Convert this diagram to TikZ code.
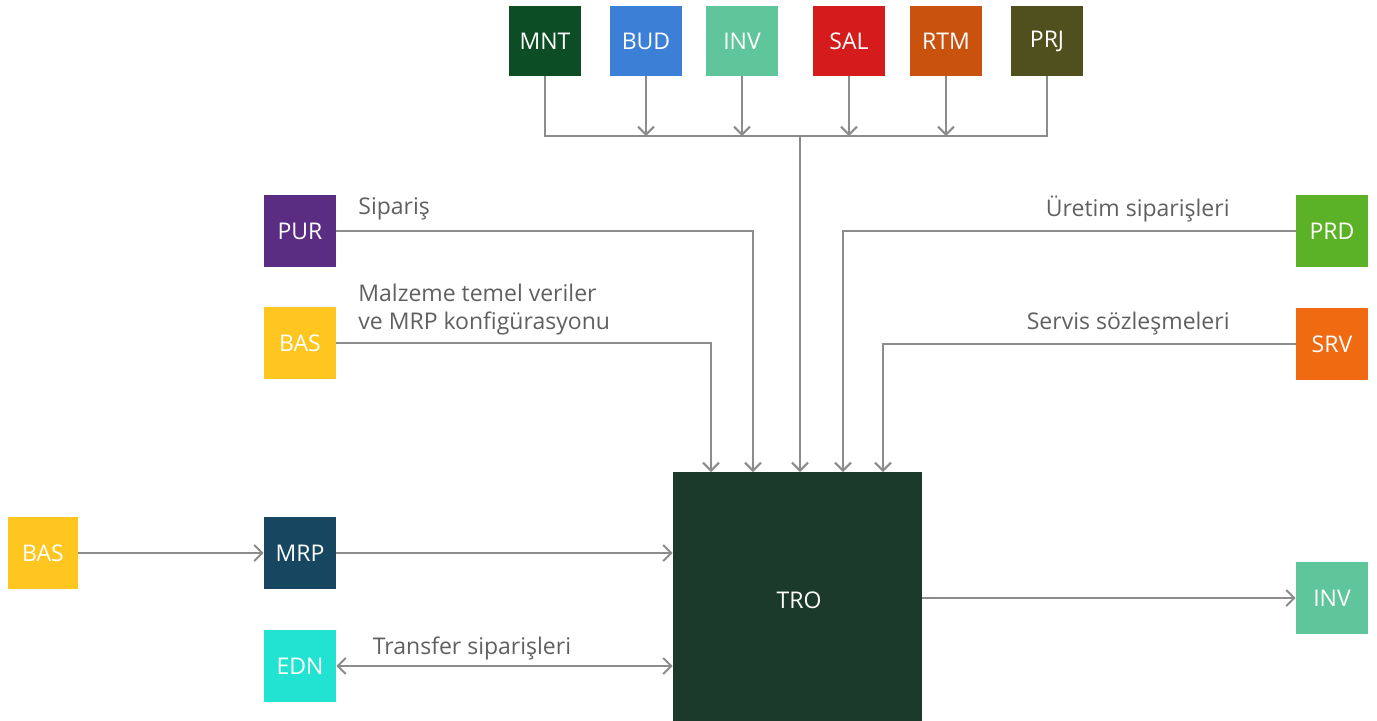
\documentclass[tikz,border=0pt]{standalone}
\usepackage{fontspec}
\setmainfont{Open Sans}
\usetikzlibrary{arrows.meta}
\definecolor{cMNT}{HTML}{0D4D25}
\definecolor{cBUD}{HTML}{3B80D6}
\definecolor{cINV}{HTML}{5FC69C}
\definecolor{cSAL}{HTML}{D51B1B}
\definecolor{cRTM}{HTML}{C8520E}
\definecolor{cPRJ}{HTML}{50501E}
\definecolor{cPUR}{HTML}{5A2D82}
\definecolor{cBAS}{HTML}{FFC620}
\definecolor{cPRD}{HTML}{5CB226}
\definecolor{cSRV}{HTML}{F06A12}
\definecolor{cMRP}{HTML}{174660}
\definecolor{cEDN}{HTML}{22E3D2}
\definecolor{cTRO}{HTML}{1B3A2B}
\definecolor{cLine}{HTML}{8C8C8C}
\definecolor{cText}{HTML}{606060}
\begin{document}
\begin{tikzpicture}[x=0.5pt,y=-0.5pt,
  box/.style={rectangle,inner sep=0pt,minimum width=36pt,minimum height=36pt,text=white,font=\fontsize{11.5}{13}\selectfont},
  ln/.style={draw=cLine,line width=1pt},
  arr/.style={ln,-{Straight Barb[length=4pt,width=8pt,line width=1pt]}},
  darr/.style={ln,{Straight Barb[length=4pt,width=8pt,line width=1pt]}-{Straight Barb[length=4pt,width=8pt,line width=1pt]}},
  lbl/.style={text=cText,font=\fontsize{11.5}{14}\selectfont,inner sep=0pt}]
\useasboundingbox[fill=white] (0,0) rectangle (1377,720);
% top boxes
\node[box,fill=cMNT,minimum height=35pt] (mnt) at (545,41) {MNT};
\node[box,fill=cBUD,minimum height=35pt] (bud) at (646,41) {BUD};
\node[box,fill=cINV,minimum height=35pt] (inv1) at (742,41) {INV};
\node[box,fill=cSAL,minimum height=35pt] (sal) at (849,41) {SAL};
\node[box,fill=cRTM,minimum height=35pt] (rtm) at (946,41) {RTM};
\node[box,fill=cPRJ,minimum height=35pt] (prj) at (1047,41) {PRJ};
% side boxes
\node[box,fill=cPUR] (pur) at (300,231) {PUR};
\node[box,fill=cBAS] (bas1) at (300,343) {BAS};
\node[box,fill=cPRD] (prd) at (1332,231) {PRD};
\node[box,fill=cSRV] (srv) at (1332,344) {SRV};
\node[box,fill=cBAS,minimum width=35pt] (bas2) at (43,553) {BAS};
\node[box,fill=cMRP] (mrp) at (300,553) {MRP};
\node[box,fill=cEDN] (edn) at (300,666) {EDN};
\node[box,fill=cINV] (inv2) at (1332,598) {INV};
% central
\node[box,fill=cTRO,minimum width=124.5pt,minimum height=125pt] (tro) at (797.5,597) {};
\node[box,minimum size=0pt] (trot) at (799,600) {TRO};
% coordinates
\coordinate (bus) at (800,136);
\coordinate (t1) at (711,472);
\coordinate (t2) at (753,472);
\coordinate (t3) at (800,472);
\coordinate (t4) at (843,472);
\coordinate (t5) at (883,472);
% top bus
\draw[ln] (mnt.south) |- (prj.south |- bus) -- (prj.south);
\draw[arr] (bud.south) -- (bud.south |- bus);
\draw[arr] (inv1.south) -- (inv1.south |- bus);
\draw[arr] (sal.south) -- (sal.south |- bus);
\draw[arr] (rtm.south) -- (rtm.south |- bus);
\draw[arr] (bus) -- (t3);
% side connectors
\draw[arr] (pur.east) -| (t2);
\draw[arr] (bas1.east) -| (t1);
\draw[arr] (prd.west) -| (t4);
\draw[arr] (srv.west) -| (t5);
\draw[arr] (bas2.east) -- (mrp.west);
\draw[arr] (mrp.east) -- (tro.west |- mrp.east);
\draw[darr] (edn.east) -- (tro.west |- edn.east);
\draw[arr] (tro.east |- inv2.west) -- (inv2.west);
% labels
\node[lbl,anchor=west] (l1) at (358,209) {Sipariş};
\node[lbl,anchor=west,align=left] (l2) at (358,310) {Malzeme temel veriler\\ve MRP konfigürasyonu};
\node[lbl,anchor=east] (l3) at (1230,209) {Üretim siparişleri};
\node[lbl,anchor=east] (l4) at (1230,324) {Servis sözleşmeleri};
\node[lbl] (l5) at (472,648) {Transfer siparişleri};
\end{tikzpicture}
\end{document}
